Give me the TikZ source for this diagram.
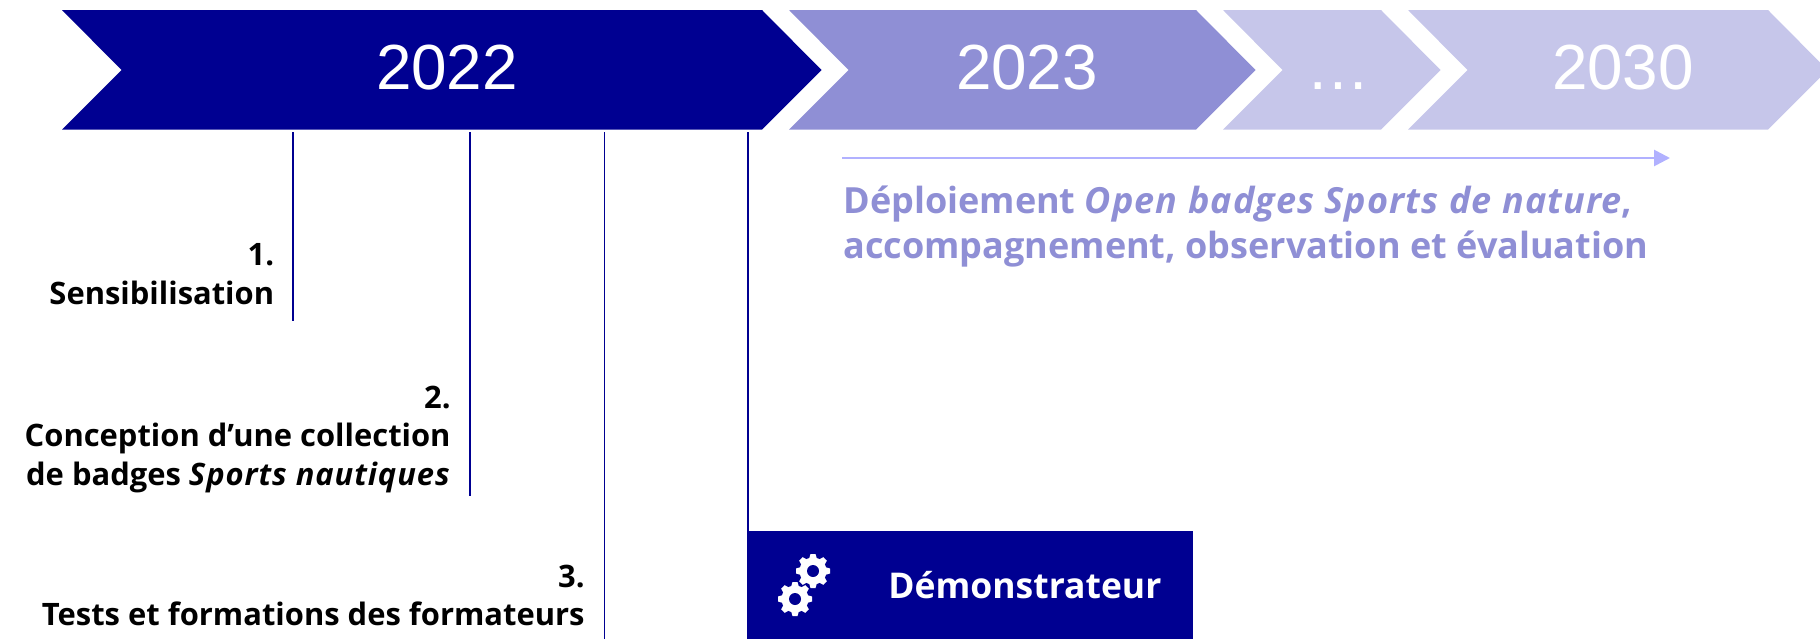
\documentclass[tikz,border=0pt]{standalone}
\usepackage{fontspec}
\setmainfont{Open Sans}
\newfontfamily\yearfont{Liberation Sans}
\usetikzlibrary{arrows.meta}
\definecolor{navy}{HTML}{000091}
\definecolor{midblue}{HTML}{8F8FD5}
\definecolor{paleblue}{HTML}{C6C6EA}
\definecolor{arrowblue}{HTML}{B1B1FF}
\newcommand{\spreadit}[1]{\textit{\addfontfeature{LetterSpace=3}#1}}

\begin{document}
\begin{tikzpicture}[x=0.02cm, y=-0.02cm, line join = miter]
\tikzstyle{year}=[text=white, anchor=base, inner sep=0pt, font=\yearfont\fontsize{36.3}{37}\selectfont]
\tikzstyle{step label}=[anchor=base east, align=right, inner sep=0pt, font=\fontsize{17.6}{21.9}\selectfont\bfseries]
\tikzstyle{tick}=[navy, line width=1.1pt]
\useasboundingbox (0,0) rectangle (1820,639);
\clip (0,0) rectangle (1820,639);

% chevrons: left, right shoulder, colour, label centre, label, name
\foreach \xa/\xb/\col/\xt/\lab/\nm in {62/762/navy/447/2022/y22, 789/1196/midblue/1027/2023/y23, 1223/1381/paleblue/1338/\dots/ydots, 1408/1768/paleblue/1623/2030/y30} {
  \fill[\col] (\xa,10) -- (\xb,10) -- (\xb+59.5,70) -- (\xb,129.5) -- (\xa,129.5) -- (\xa+59.5,70) -- cycle;
  \node[year] (\nm) at (\xt,89) {\lab};
}

% ticks below 2022
\coordinate (t1) at (293,132);
\coordinate (e1) at (293,320.5);
\coordinate (t2) at (470,132);
\coordinate (e2) at (470,496);
\coordinate (t3) at (604.5,132);
\coordinate (e3) at (604.5,639);
\coordinate (t4) at (748,132);

\node[fill=navy, text=white, minimum width=8.92cm, minimum height=2.16cm, inner sep=0pt, anchor=north west] (demo) at (747,531) {};
\draw[tick] (t1) -- (e1);
\draw[tick] (t2) -- (e2);
\draw[tick] (t3) -- (e3);
\draw[tick] (t4) -- (t4 |- demo.north);

\node[step label] (s1) at (274.5,304) {1.\\Sensibilisation};
\node[step label] (s2) at (451,485) {2.\\Conception d’une collection\\de badges \spreadit{Sports nautiques}};
\node[step label] (s3) at (585,625.7) {3.\\Tests et formations des formateurs};

% deployment arrow and text
\coordinate (d1) at (842,158);
\coordinate (d2) at (1670,158);
\draw[arrowblue, line width=1.5pt, -{Triangle[length=9pt,width=9pt]}] (d1) -- (d2);
\node[anchor=base west, align=left, inner sep=0pt, text=midblue, font=\fontsize{20.5}{25.6}\selectfont\bfseries] (deploy) at (843,258) {Déploiement \spreadit{Open badges Sports de nature},\\accompagnement, observation et évaluation};

\node[anchor=base west, inner sep=0pt, text=white, font=\fontsize{20.2}{24}\selectfont\bfseries] (demotext) at (888,598) {Démonstrateur};

% gears
\foreach \cx/\cy in {813/571, 795/599} {
  \fill[white] (\cx,\cy) circle (13.5);
  \foreach \a in {0,45,...,315}
    \fill[white, shift={(\cx,\cy)}, rotate=\a] (12,-4) -- (17,-2.5) -- (17,2.5) -- (12,4) -- cycle;
  \fill[navy] (\cx,\cy) circle (6);
}
\end{tikzpicture}
\end{document}
